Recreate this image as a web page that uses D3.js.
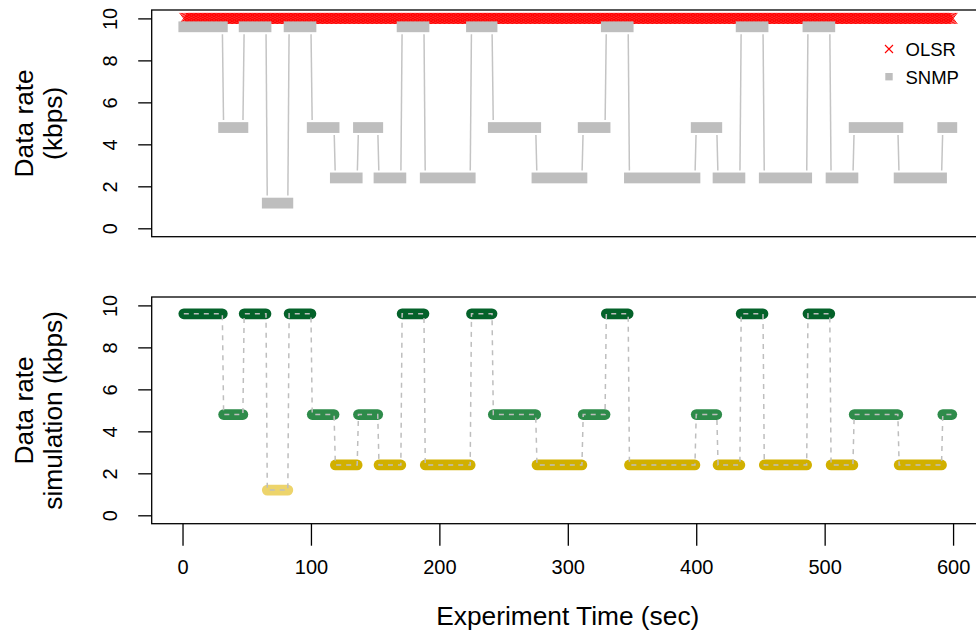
<!DOCTYPE html>
<html>
<head>
<meta charset="utf-8">
<script src="https://cdn.jsdelivr.net/npm/d3@7"></script>
<style>
  html, body { margin: 0; padding: 0; background: #ffffff; }
  svg { display: block; font-family: "Liberation Sans", Arial, Helvetica, sans-serif; }
</style>
</head>
<body>
<svg id="chart" width="976" height="637"></svg>
<script>
// Rate segments (seconds, kbps): each segment holds a constant data rate.
const segStart = [1, 32, 48, 66, 83, 101, 119, 137, 153, 171, 189, 225, 242, 276, 312, 330, 348, 400, 417, 435, 453, 487, 505, 523, 558, 592];
const segEnd   = [31, 47, 65, 82, 100, 118, 136, 152, 170, 188, 224, 241, 275, 311, 329, 347, 399, 416, 434, 452, 486, 504, 522, 557, 591, 599];
// Measured SNMP data rate per segment
const snmpRate = [9.6, 4.8, 9.6, 1.2, 9.6, 4.8, 2.4, 4.8, 2.4, 9.6, 2.4, 9.6, 4.8, 2.4, 4.8, 9.6, 2.4, 4.8, 2.4, 9.6, 2.4, 9.6, 2.4, 4.8, 2.4, 4.8];
// Simulated data rate per segment
const simRate  = [9.6, 4.8, 9.6, 1.2, 9.6, 4.8, 2.4, 4.8, 2.4, 9.6, 2.4, 9.6, 4.8, 2.4, 4.8, 9.6, 2.4, 4.8, 2.4, 9.6, 2.4, 9.6, 2.4, 4.8, 2.4, 4.8];
// OLSR rate, sampled once per second over the run
const olsrFirst = 1, olsrLast = 600, olsrRate = 10;

const xTicks = [0, 100, 200, 300, 400, 500, 600];
const yTicks = [0, 2, 4, 6, 8, 10];
const legendLabels = ["OLSR", "SNMP"];

// Colour for each simulated rate level
const rateLevels = [9.6, 4.8, 2.4, 1.2];
const rateColors = ["#04622a", "#2e8b4a", "#d1b000", "#edd46b"];

const svg = d3.select("#chart");
svg.append("rect").attr("width", 976).attr("height", 637).attr("fill", "#fff");

const plotLeft = 151.7, plotRight = 983.9;
const x = d3.scaleLinear().domain([-24, 624]).range([plotLeft, plotRight]);
const yTop = d3.scaleLinear().domain([-0.4, 10.4]).range([236.7, 10]);
const yBot = d3.scaleLinear().domain([-0.4, 10.4]).range([523.7, 297]);
const color = d3.scaleOrdinal().domain(rateLevels).range(rateColors);

const segs = segStart.map((s, i) => ({ s, e: segEnd[i], snmp: snmpRate[i], sim: simRate[i] }));

// ---------- Top panel: OLSR and SNMP ----------
const topPanel = svg.append("g");

// OLSR markers (one x per second)
const olsrTimes = d3.range(olsrFirst, olsrLast + 1);
const mx = 4.2, my = 5.5;
topPanel.append("path")
  .attr("d", olsrTimes.map(t => {
    const cx = x(t), cy = yTop(olsrRate);
    return `M${cx - mx},${cy - my}L${cx + mx},${cy + my}M${cx - mx},${cy + my}L${cx + mx},${cy - my}`;
  }).join(""))
  .attr("stroke", "#ff0000").attr("stroke-width", 1).attr("fill", "none");

// SNMP samples: square markers merge into bands per segment
const sq = 5.4;
topPanel.selectAll("rect.snmp").data(segs).join("rect")
  .attr("class", "snmp")
  .attr("x", d => x(d.s) - sq)
  .attr("width", d => x(d.e) - x(d.s) + 2 * sq)
  .attr("y", d => yTop(d.snmp) - sq)
  .attr("height", 2 * sq)
  .attr("fill", "#bebebe");

// Connecting lines between segments, with gaps around the points
const gap = 7.5;
topPanel.selectAll("line.link").data(segs.slice(0, -1)).join("line")
  .attr("class", "link")
  .each(function (d, i) {
    const n = segs[i + 1];
    const x1 = x(d.e), y1 = yTop(d.snmp), x2 = x(n.s), y2 = yTop(n.snmp);
    const len = Math.hypot(x2 - x1, y2 - y1);
    const ux = (x2 - x1) / len, uy = (y2 - y1) / len;
    d3.select(this)
      .attr("x1", x1 + ux * gap).attr("y1", y1 + uy * gap)
      .attr("x2", x2 - ux * gap).attr("y2", y2 - uy * gap);
  })
  .attr("stroke", "#c4c4c4").attr("stroke-width", 1.5);

// Legend
const lg = topPanel.append("g");
lg.append("path")
  .attr("d", "M885,45L893,53M885,53L893,45")
  .attr("stroke", "#ff0000").attr("stroke-width", 1.1);
lg.append("rect").attr("x", 885.3).attr("y", 73).attr("width", 7.4).attr("height", 7.4).attr("fill", "#bebebe");
lg.selectAll("text").data(legendLabels).join("text")
  .attr("x", 905.5).attr("y", (d, i) => 55.5 + i * 28)
  .attr("font-size", 18.5).attr("fill", "#000").text(d => d);

// ---------- Bottom panel: simulation ----------
const botPanel = svg.append("g");
botPanel.selectAll("line.seg").data(segs).join("line")
  .attr("class", "seg")
  .attr("x1", d => x(d.s)).attr("x2", d => x(d.e))
  .attr("y1", d => yBot(d.sim)).attr("y2", d => yBot(d.sim))
  .attr("stroke", d => color(d.sim))
  .attr("stroke-width", 10.7)
  .attr("stroke-linecap", "round");

const pts = [];
segs.forEach(d => { pts.push([d.s, d.sim]); pts.push([d.e, d.sim]); });
botPanel.append("path")
  .attr("d", d3.line().x(p => x(p[0])).y(p => yBot(p[1]))(pts))
  .attr("fill", "none")
  .attr("stroke", "#bebebe")
  .attr("stroke-width", 1.5)
  .attr("stroke-dasharray", "5,5");

// ---------- Frames and axes ----------
function frame(yScale) {
  const [y0, y1] = yScale.range();
  svg.append("rect")
    .attr("x", plotLeft).attr("y", y1)
    .attr("width", plotRight - plotLeft).attr("height", y0 - y1)
    .attr("fill", "none").attr("stroke", "#000").attr("stroke-width", 1.3);
}
frame(yTop);
frame(yBot);

function yAxis(yScale) {
  const g = svg.append("g")
    .attr("transform", `translate(${plotLeft},0)`)
    .call(d3.axisLeft(yScale).tickValues(yTicks).tickSize(13.5).tickFormat(d3.format("d")));
  g.select(".domain").remove();
  g.selectAll(".tick line").attr("stroke", "#000").attr("stroke-width", 1.3);
  g.selectAll(".tick text")
    .attr("x", null).attr("dy", null)
    .attr("transform", "translate(-34.7,0) rotate(-90)")
    .attr("text-anchor", "middle")
    .attr("font-size", 20)
    .attr("font-family", "Liberation Sans, Arial, sans-serif")
    .attr("fill", "#000");
}
yAxis(yTop);
yAxis(yBot);

const xg = svg.append("g")
  .attr("transform", `translate(0,${yBot.range()[0]})`)
  .call(d3.axisBottom(x).tickValues(xTicks).tickSize(22).tickFormat(d3.format("d")));
xg.select(".domain").remove();
xg.selectAll(".tick line").attr("stroke", "#000").attr("stroke-width", 1.3);
xg.selectAll(".tick text")
  .attr("y", 50.3).attr("dy", null)
  .attr("font-size", 20)
  .attr("font-family", "Liberation Sans, Arial, sans-serif")
  .attr("fill", "#000");

// Axis titles
svg.append("text")
  .attr("x", (plotLeft + plotRight) / 2).attr("y", 625)
  .attr("text-anchor", "middle").attr("font-size", 26.3)
  .text("Experiment Time (sec)");

function yTitle(lines, yScale) {
  const [y0, y1] = yScale.range();
  const cy = (y0 + y1) / 2;
  const baselines = [33.3, 62];
  lines.forEach((t, i) => {
    svg.append("text")
      .attr("transform", `translate(${baselines[i]},${cy}) rotate(-90)`)
      .attr("text-anchor", "middle").attr("font-size", 26.3)
      .text(t);
  });
}
yTitle(["Data rate", "(kbps)"], yTop);
yTitle(["Data rate", "simulation (kbps)"], yBot);
</script>
</body>
</html>
